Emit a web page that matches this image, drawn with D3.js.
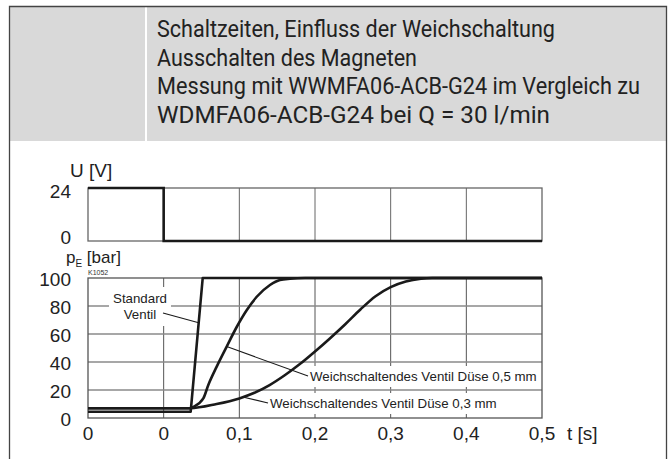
<!DOCTYPE html>
<html>
<head>
<meta charset="utf-8">
<script src="https://cdn.jsdelivr.net/npm/d3@7"></script>
<style>
  body { margin: 0; background: #fff; }
  svg { display: block; }
</style>
</head>
<body>
<svg id="chart" width="670" height="459"></svg>
<script>
// title lines
const titleLines = [
  "Schaltzeiten, Einfluss der Weichschaltung",
  "Ausschalten des Magneten",
  "Messung mit WWMFA06-ACB-G24 im Vergleich zu",
  "WDMFA06-ACB-G24 bei Q = 30 l/min",
];
const titleWidths = [398, 260, 483, 393];

// axis ticks
const timeTicks = [-0.1, 0, 0.1, 0.2, 0.3, 0.4, 0.5];
const timeLabels = ["0", "0", "0,1", "0,2", "0,3", "0,4", "0,5"];
const gridTimes = [0, 0.1, 0.2, 0.3, 0.4];
const uTicks = [0, 24];
const pTicks = [0, 20, 40, 60, 80, 100];
const pGrid = [20, 40, 60, 80];

// voltage U [V]
const voltage = [
  [-0.1, 24], [0, 24], [0, 0], [0.5, 0],
];

// pressure curves p [bar]
const standardValve = [
  [-0.1, 4.5], [0.0357, 4.5], [0.0516, 100], [0.5, 100],
];
const soft05 = [
  [-0.1, 7], [0.035, 7], [0.0392, 8], [0.0524, 14], [0.059, 23.6],
  [0.0701, 36.7], [0.0833, 51], [0.0965, 65], [0.1097, 77], [0.123, 86.6],
  [0.1405, 95], [0.1537, 98.6], [0.167, 99.5], [0.187, 100], [0.5, 100],
];
const soft03 = [
  [-0.1, 7], [0.035, 7], [0.07, 10], [0.1, 14], [0.12, 18], [0.14, 23.5],
  [0.16, 30.5], [0.18, 38.5], [0.2, 47.5], [0.22, 57], [0.24, 67],
  [0.26, 77.5], [0.28, 87], [0.3, 93.5], [0.32, 97.5], [0.34, 99.5],
  [0.355, 100], [0.5, 100],
];

const svg = d3.select("#chart");
const ink = "#1a1a1a";
const labelFont = "'Liberation Sans', Arial, sans-serif";

// header
svg.append("rect")
  .attr("x", 9).attr("y", 6)
  .attr("width", 658).attr("height", 135)
  .attr("fill", "#d9d9d9");
svg.append("rect")
  .attr("x", 145).attr("y", 6)
  .attr("width", 2).attr("height", 135)
  .attr("fill", "#fff");

titleLines.forEach((line, i) => {
  svg.append("text")
    .attr("x", 157)
    .attr("y", 37 + i * 28.5)
    .attr("textLength", titleWidths[i])
    .attr("lengthAdjust", "spacingAndGlyphs")
    .style("font-family", "Roboto, 'Liberation Sans', sans-serif")
    .style("font-size", "23px")
    .style("fill", "#222")
    .text(line);
});

// outer frame
svg.append("path")
  .attr("d", "M9.5,459 V6.5 H666.5 V459")
  .attr("fill", "none")
  .attr("stroke", "#444")
  .attr("stroke-width", 1.3);

// scales
const x = d3.scaleLinear().domain([-0.1, 0.5]).range([88, 542]);
const yU = d3.scaleLinear().domain([0, 24]).range([241, 188]);
const yP = d3.scaleLinear().domain([0, 100]).range([418, 278]);

// ---- U panel
const gU = svg.append("g");
gU.selectAll("line.vg")
  .data(gridTimes)
  .enter()
  .append("line")
  .attr("x1", (d) => x(d)).attr("x2", (d) => x(d))
  .attr("y1", yU(24)).attr("y2", yU(0))
  .attr("stroke", "#666").attr("stroke-width", 1);
gU.append("rect")
  .attr("x", x(-0.1)).attr("y", yU(24))
  .attr("width", x(0.5) - x(-0.1)).attr("height", yU(0) - yU(24))
  .attr("fill", "none").attr("stroke", "#666").attr("stroke-width", 1.3);

gU.append("path")
  .datum(voltage)
  .attr("d", d3.line().x((d) => x(d[0])).y((d) => yU(d[1])))
  .attr("fill", "none")
  .attr("stroke", ink)
  .attr("stroke-width", 2.6);

gU.selectAll("text.ut")
  .data(uTicks)
  .enter()
  .append("text")
  .attr("x", 71)
  .attr("y", (d) => yU(d) + (d === 0 ? -4 : 3))
  .attr("dy", "0.35em")
  .attr("text-anchor", "end")
  .style("font-family", labelFont)
  .style("font-size", "19px")
  .style("fill", "#222")
  .text((d) => d);

svg.append("text")
  .attr("x", 70).attr("y", 177)
  .style("font-family", labelFont)
  .style("font-size", "19px")
  .style("fill", "#222")
  .text("U [V]");

// ---- pressure panel
const gP = svg.append("g");
gP.selectAll("line.vg")
  .data(gridTimes)
  .enter()
  .append("line")
  .attr("x1", (d) => x(d)).attr("x2", (d) => x(d))
  .attr("y1", yP(100)).attr("y2", yP(0))
  .attr("stroke", "#555").attr("stroke-width", 1);
gP.selectAll("line.hg")
  .data(pGrid)
  .enter()
  .append("line")
  .attr("x1", x(-0.1)).attr("x2", x(0.5))
  .attr("y1", (d) => yP(d)).attr("y2", (d) => yP(d))
  .attr("stroke", "#8a8a8a").attr("stroke-width", 1.6);
gP.append("rect")
  .attr("x", x(-0.1)).attr("y", yP(100))
  .attr("width", x(0.5) - x(-0.1)).attr("height", yP(0) - yP(100))
  .attr("fill", "none").attr("stroke", "#555").attr("stroke-width", 1.3);

gP.selectAll("text.pt")
  .data(pTicks)
  .enter()
  .append("text")
  .attr("x", 71)
  .attr("y", (d) => yP(d) + 1)
  .attr("dy", "0.35em")
  .attr("text-anchor", "end")
  .style("font-family", labelFont)
  .style("font-size", "19px")
  .style("fill", "#222")
  .text((d) => d);

const pLabel = svg.append("text")
  .attr("x", 66).attr("y", 263)
  .style("font-family", labelFont)
  .style("font-size", "17px")
  .style("fill", "#222");
pLabel.append("tspan").text("p");
pLabel.append("tspan").attr("dy", 4).style("font-size", "10px").text("E");
pLabel.append("tspan").attr("dy", -4).text(" [bar]");

svg.append("text")
  .attr("x", 88).attr("y", 275)
  .style("font-family", labelFont)
  .style("font-size", "7px")
  .style("fill", "#333")
  .text("K1052");

// annotation labels with white boxes
function boxedLabel(lines, cx, baseline, anchor, pad) {
  const g = svg.append("g");
  const bg = g.append("rect").attr("fill", "#fff");
  const t = g.append("text")
    .attr("text-anchor", anchor)
    .style("font-family", labelFont)
    .style("font-size", "13.3px")
    .style("fill", "#222");
  lines.forEach((l, i) => {
    t.append("tspan").attr("x", cx).attr("y", baseline + i * 16).text(l);
  });
  const b = t.node().getBBox();
  bg.attr("x", b.x - pad[0]).attr("y", b.y - pad[1])
    .attr("width", b.width + 2 * pad[0]).attr("height", b.height + 2 * pad[1]);
  return b;
}

boxedLabel(["Standard", "Ventil"], 140, 303, "middle", [4, 4]);
boxedLabel(["Weichschaltendes Ventil Düse 0,5 mm"], 310, 381, "start", [3, 3]);
boxedLabel(["Weichschaltendes Ventil Düse 0,3 mm"], 270, 408, "start", [3, 3]);

// point on the standard line at a given pressure
function onStandard(p) {
  const a = standardValve[1], b = standardValve[2];
  return a[0] + (b[0] - a[0]) * (p - a[1]) / (b[1] - a[1]);
}

// leader lines
const leaders = [
  [[163, 313], [x(onStandard(68)), yP(68)]],
  [[308, 376], [x(0.0833), yP(51)]],
  [[268, 403], [x(0.1045), yP(15)]],
];
leaders.forEach((l) => {
  svg.append("line")
    .attr("x1", l[0][0]).attr("y1", l[0][1])
    .attr("x2", l[1][0]).attr("y2", l[1][1])
    .attr("stroke", ink).attr("stroke-width", 1.1);
});

// curves
const lineP = d3.line().x((d) => x(d[0])).y((d) => yP(d[1]));
const smoothP = d3.line().x((d) => x(d[0])).y((d) => yP(d[1])).curve(d3.curveMonotoneX);

[[soft03, smoothP], [soft05, smoothP], [standardValve, lineP]].forEach(([data, gen]) => {
  gP.append("path")
    .datum(data)
    .attr("d", gen)
    .attr("fill", "none")
    .attr("stroke", ink)
    .attr("stroke-width", 2.6)
    .attr("stroke-linejoin", "round");
});

// x tick labels
svg.selectAll("text.xt")
  .data(timeTicks)
  .enter()
  .append("text")
  .attr("x", (d) => x(d))
  .attr("y", 440)
  .attr("text-anchor", "middle")
  .style("font-family", labelFont)
  .style("font-size", "19px")
  .style("fill", "#222")
  .text((d, i) => timeLabels[i]);

svg.append("text")
  .attr("x", 567).attr("y", 440)
  .style("font-family", labelFont)
  .style("font-size", "19px")
  .style("fill", "#222")
  .text("t [s]");
</script>
</body>
</html>
